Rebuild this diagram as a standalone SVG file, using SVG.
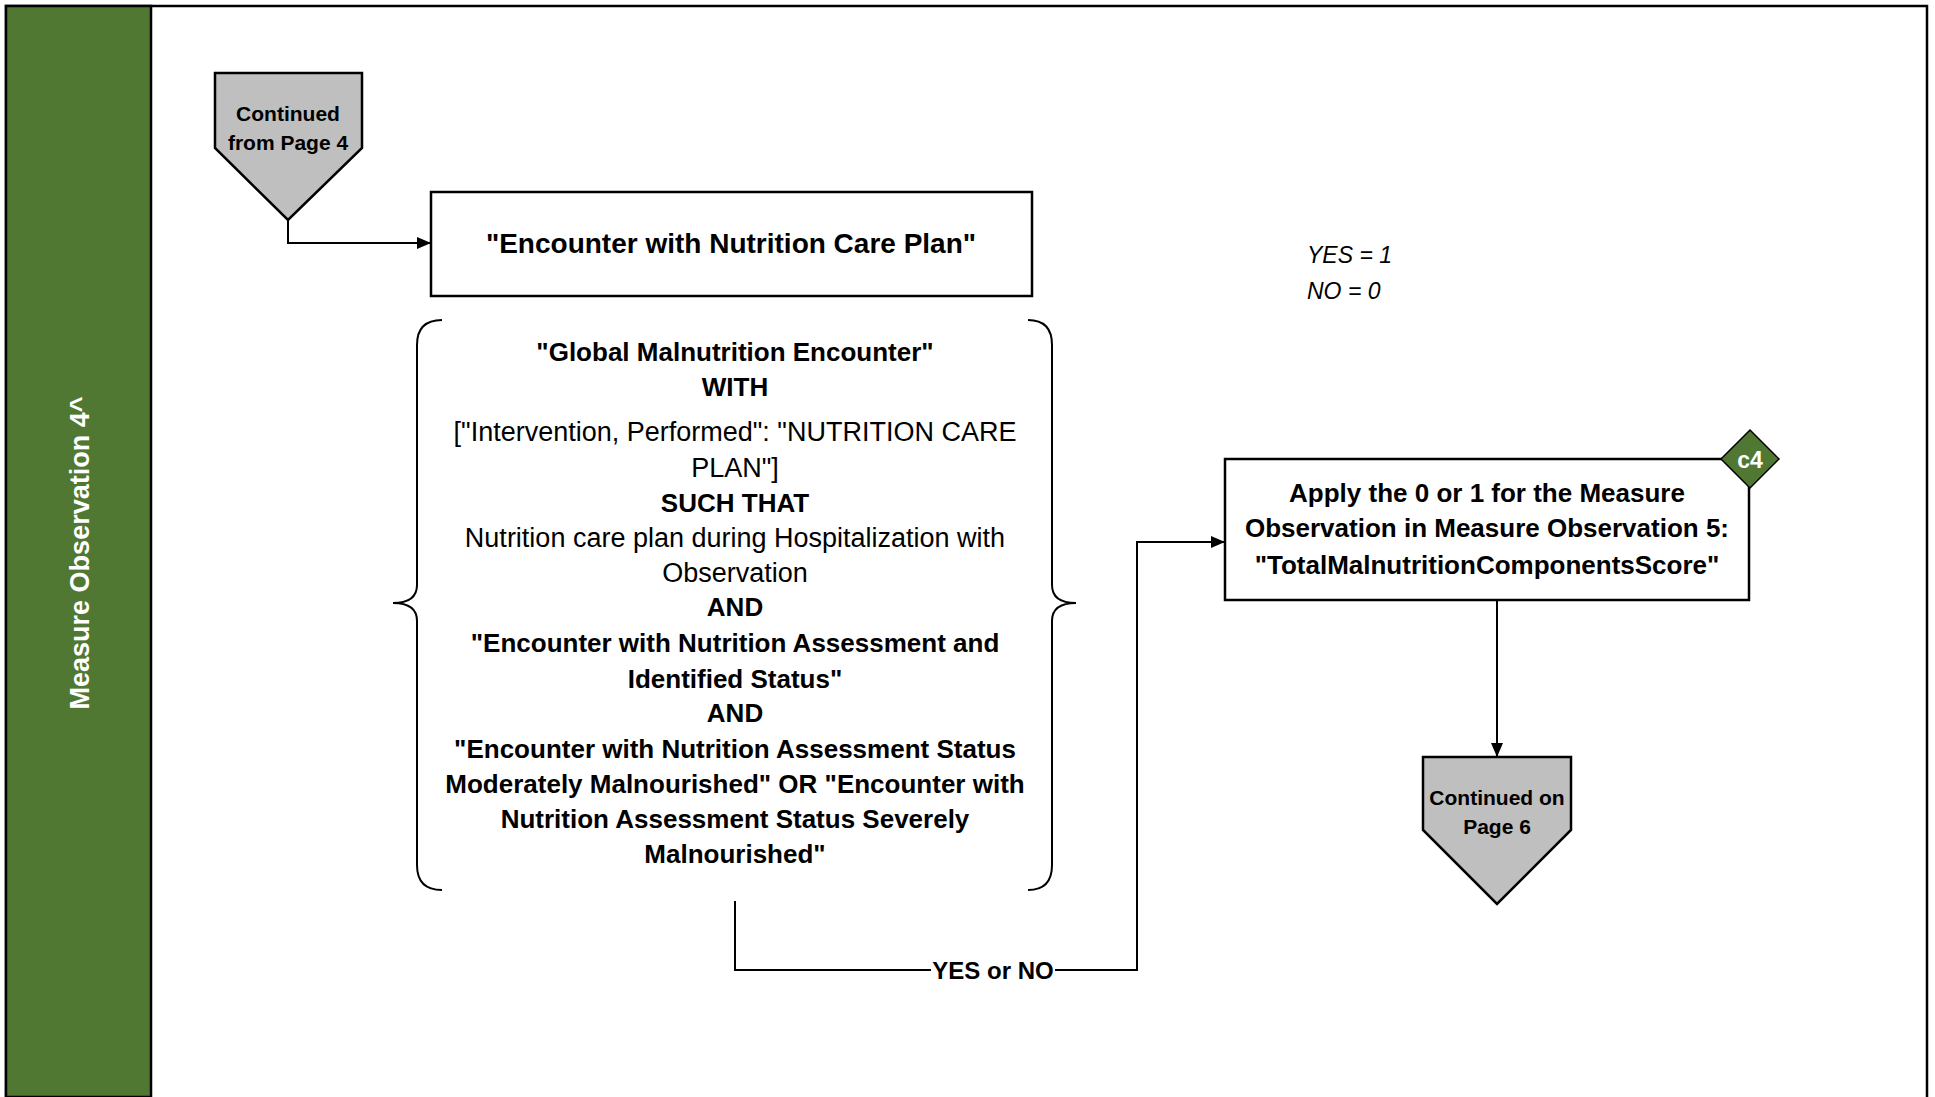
<svg xmlns="http://www.w3.org/2000/svg" width="1935" height="1097" viewBox="0 0 1935 1097">
<style>
.t{font-family:"Liberation Sans",Arial,sans-serif;fill:#000;text-anchor:middle}
.b{font-weight:bold}
.r{font-size:27px}
.bb{font-size:26px;font-weight:bold}
.ln{fill:none;stroke:#000;stroke-width:2}
.box{fill:#fff;stroke:#000;stroke-width:2.5}
.off{fill:#bfbfbf;stroke:#000;stroke-width:2.5}
</style>
<defs>
<marker id="ah" viewBox="0 0 14 12" refX="14" refY="6" markerWidth="14" markerHeight="12" markerUnits="userSpaceOnUse" orient="auto">
<path d="M0,0 L14,6 L0,12 Z" fill="#000"/>
</marker>
</defs>
<rect x="0" y="0" width="1935" height="1097" fill="#fff"/>
<g id="frame">
<path d="M6,1097 L6,6 L1927,6 L1927,1097" fill="none" stroke="#000" stroke-width="2.5"/>
<rect x="6" y="6" width="145" height="1091" fill="#507832" stroke="#000" stroke-width="2.5"/>
<text class="t b" x="0" y="0" font-size="27" style="fill:#fff" transform="translate(89,553) rotate(-90)">Measure Observation 4^</text>
</g>
<g id="connectors">
<path class="ln" d="M288,220 L288,243 L431,243" marker-end="url(#ah)"/>
<path class="ln" d="M735,901 L735,970 L931,970"/>
<path class="ln" d="M1055,970 L1137,970 L1137,542 L1225,542" marker-end="url(#ah)"/>
<text class="t b" x="993" y="979" font-size="24">YES or NO</text>
<path class="ln" d="M1497,600 L1497,757" marker-end="url(#ah)"/>
</g>
<g id="start">
<path class="off" d="M215,73 L362,73 L362,148 L288,220 L215,148 Z"/>
<text class="t b" x="288" y="121" font-size="21">Continued</text>
<text class="t b" x="288" y="150" font-size="21">from Page 4</text>
</g>
<g id="careplan">
<rect class="box" x="431" y="192" width="601" height="104"/>
<text class="t b" x="731" y="253" font-size="28">"Encounter with Nutrition Care Plan"</text>
</g>
<g id="criteria">
<path class="ln" d="M442,320 Q417,320 417,345 L417,585 Q417,603 393,603 Q417,603 417,621 L417,865 Q417,890 442,890"/>
<path class="ln" d="M1028,320 Q1052,320 1052,345 L1052,585 Q1052,603 1076,603 Q1052,603 1052,621 L1052,865 Q1052,890 1028,890"/>
<text class="t bb" x="735" y="361">"Global Malnutrition Encounter"</text>
<text class="t bb" x="735" y="396">WITH</text>
<text class="t r" x="735" y="441">["Intervention, Performed": "NUTRITION CARE</text>
<text class="t r" x="735" y="477">PLAN"]</text>
<text class="t bb" x="735" y="512">SUCH THAT</text>
<text class="t r" x="735" y="547">Nutrition care plan during Hospitalization with</text>
<text class="t r" x="735" y="582">Observation</text>
<text class="t bb" x="735" y="616">AND</text>
<text class="t bb" x="735" y="652">"Encounter with Nutrition Assessment and</text>
<text class="t bb" x="735" y="688">Identified Status"</text>
<text class="t bb" x="735" y="722">AND</text>
<text class="t bb" x="735" y="758">"Encounter with Nutrition Assessment Status</text>
<text class="t bb" x="735" y="793">Moderately Malnourished" OR "Encounter with</text>
<text class="t bb" x="735" y="828">Nutrition Assessment Status Severely</text>
<text class="t bb" x="735" y="863">Malnourished"</text>
</g>
<g id="legend">
<text class="t" x="1307" y="263" font-size="23" font-style="italic" style="text-anchor:start">YES = 1</text>
<text class="t" x="1307" y="299" font-size="23" font-style="italic" style="text-anchor:start">NO = 0</text>
</g>
<g id="apply">
<rect class="box" x="1225" y="459" width="524" height="141"/>
<text class="t b" x="1487" y="502" font-size="26">Apply the 0 or 1 for the Measure</text>
<text class="t b" x="1487" y="537" font-size="26">Observation in Measure Observation 5:</text>
<text class="t b" x="1487" y="574" font-size="26">"TotalMalnutritionComponentsScore"</text>
<path d="M1750,430 L1779,459 L1750,488 L1721,459 Z" fill="#507832" stroke="#000" stroke-width="1.5"/>
<text class="t b" x="1750" y="468" font-size="23" style="fill:#fff">c4</text>
</g>
<g id="end">
<path class="off" d="M1423,757 L1571,757 L1571,830 L1497,904 L1423,830 Z"/>
<text class="t b" x="1497" y="805" font-size="21">Continued on</text>
<text class="t b" x="1497" y="834" font-size="21">Page 6</text>
</g>
</svg>
